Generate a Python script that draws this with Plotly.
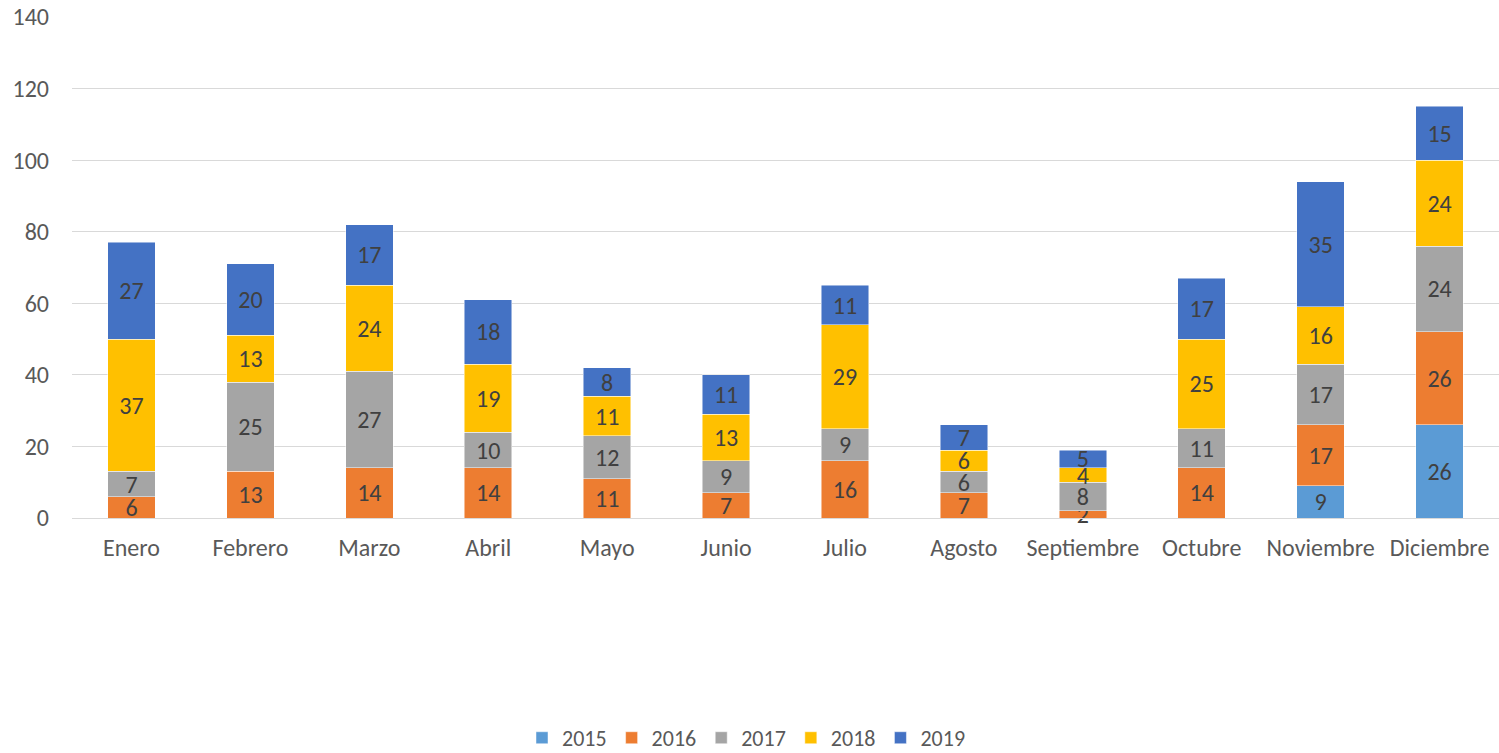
import plotly.graph_objects as go

months = ["Enero", "Febrero", "Marzo", "Abril", "Mayo", "Junio", "Julio",
          "Agosto", "Septiembre", "Octubre", "Noviembre", "Diciembre"]
y2015 = [None, None, None, None, None, None, None, None, None, None, 9, 26]
y2016 = [6, 13, 14, 14, 11, 7, 16, 7, 2, 14, 17, 26]
y2017 = [7, 25, 27, 10, 12, 9, 9, 6, 8, 11, 17, 24]
y2018 = [37, 13, 24, 19, 11, 13, 29, 6, 4, 25, 16, 24]
y2019 = [27, 20, 17, 18, 8, 11, 11, 7, 5, 17, 35, 15]

series = [("2015", y2015, "#5B9BD5"), ("2016", y2016, "#ED7D31"),
          ("2017", y2017, "#A5A5A5"), ("2018", y2018, "#FFC000"),
          ("2019", y2019, "#4472C4")]

FONT = "Carlito, Lato, sans-serif"

fig = go.Figure()
for name, vals, col in series:
    fig.add_trace(go.Bar(
        name=name, x=months, y=vals,
        marker=dict(color=col, line=dict(color="rgba(255,255,255,0.6)", width=0.8)),
        text=[("" if v is None else str(v)) for v in vals],
        textposition="inside", insidetextanchor="middle",
        constraintext="none", textangle=0, cliponaxis=False,
        textfont=dict(family=FONT, size=24, color="#404040"),
        hoverinfo="skip",
    ))

fig.update_layout(
    barmode="stack", bargap=0.6,
    width=1499, height=753,
    paper_bgcolor="white", plot_bgcolor="white",
    margin=dict(l=72, r=0, t=17, b=235, autoexpand=False),
    font=dict(family=FONT, size=24, color="#595959"),
    showlegend=True,
    legend=dict(orientation="h", xref="container",
                x=0.498, xanchor="center", y=-0.439, yanchor="middle",
                font=dict(family=FONT, size=22, color="#595959"),
                itemwidth=30, tracegroupgap=0, traceorder="normal"),
)
fig.update_xaxes(showgrid=False, showline=True, linecolor="#d9d9d9", linewidth=1,
                 ticks="", ticklabelstandoff=8, automargin=False,
                 tickfont=dict(family=FONT, size=24, color="#595959"))
fig.update_yaxes(range=[0, 140], dtick=20, showgrid=True, gridcolor="#d9d9d9",
                 gridwidth=1, zeroline=False, showline=False, ticks="",
                 ticklabelstandoff=22, automargin=False,
                 tickfont=dict(family=FONT, size=24, color="#595959"))

fig.write_html("out.html", config={"displayModeBar": False},
               post_script="document.body.style.margin='0';")
